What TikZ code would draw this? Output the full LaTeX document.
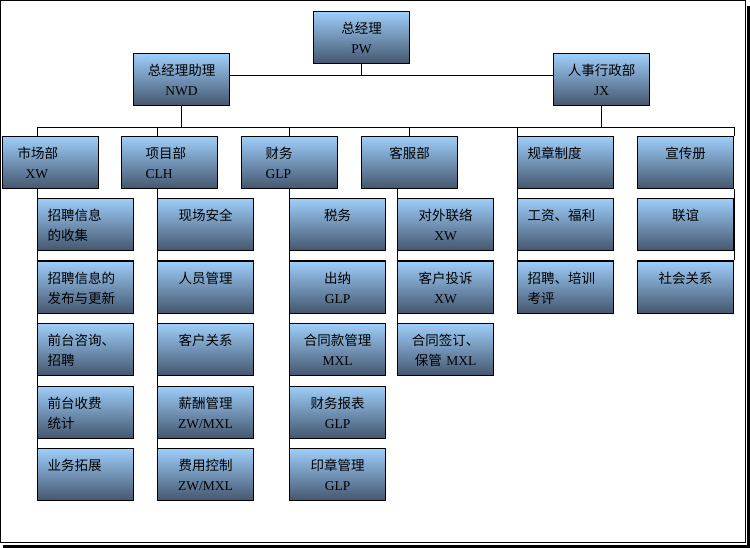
\documentclass[tikz,border=0pt]{standalone}
\usepackage{fontspec}
\setmainfont{Liberation Serif}
\newfontfamily\cjk{Noto Sans CJK SC}
\usetikzlibrary{positioning}
\definecolor{boxtop}{RGB}{158,206,250}
\definecolor{boxmid}{RGB}{124,162,204}
\definecolor{boxbot}{RGB}{68,86,110}
\newcommand{\nm}[1]{{\rmfamily #1}}

\begin{document}
\begin{tikzpicture}[x=1pt, y=-1pt,
    unit/.style={draw, line width=1.2pt, rectangle, anchor=north west,
        minimum width=96pt, minimum height=52pt, inner ysep=0pt,
        inner xsep=10pt, text width=76pt,
        top color=boxtop, middle color=boxmid, bottom color=boxbot,
        font=\cjk\fontsize{13.5}{20}\selectfont,
        execute at begin node={\rule{0pt}{17pt}},
        execute at end node={\rule[-5pt]{0pt}{5pt}}},
    ctr/.style={unit, align=center},
    lft/.style={unit, align=left},
    link/.style={line width=0.9pt}]
    \useasboundingbox (0,0) rectangle (750,548);
    % frame
    \draw[line width=1pt] (0.5,0.5) rectangle (745,542);
    \fill (747,6) rectangle (750,548);
    \fill (3,545) rectangle (750,548);

    \node[ctr] (pw) at (313,11) {总经理\\\nm{PW}};
    \node[ctr] (nwd) at (133,53) {总经理助理\\\nm{NWD}};
    \node[ctr] (jx) at (553,53) {人事行政部\\\nm{JX}};

    \node[lft] (sc) at (2,136) {\hspace*{5pt}市场部\\\hspace*{13pt}\nm{XW}};
    \node[lft] (xm) at (121,136) {\hspace*{14pt}项目部\\\hspace*{14pt}\nm{CLH}};
    \node[lft] (cw) at (241,136) {\hspace*{14pt}财务\\\hspace*{14pt}\nm{GLP}};
    \node[ctr] (kf) at (361,136) {客服部\\};
    \node[lft] (gz) at (517,136) {规章制度\\};
    \node[ctr] (xc) at (637,136) {宣传册\\};

    % market
    \node[lft] (sc1) at (37,198) {招聘信息\\的收集};
    \node[lft] (sc2) at (37,260.5) {招聘信息的\\发布与更新};
    \node[lft] (sc3) at (37,323) {前台咨询、\\招聘};
    \node[lft] (sc4) at (37,385.5) {前台收费\\统计};
    \node[lft] (sc5) at (37,448) {业务拓展\\};
    % project
    \node[ctr] (xm1) at (157,198) {现场安全\\};
    \node[ctr] (xm2) at (157,260.5) {人员管理\\};
    \node[ctr] (xm3) at (157,323) {客户关系\\};
    \node[ctr] (xm4) at (157,385.5) {薪酬管理\\\nm{ZW/MXL}};
    \node[ctr] (xm5) at (157,448) {费用控制\\\nm{ZW/MXL}};
    % finance
    \node[ctr] (cw1) at (289,198) {税务\\};
    \node[ctr] (cw2) at (289,260.5) {出纳\\\nm{GLP}};
    \node[ctr] (cw3) at (289,323) {合同款管理\\\nm{MXL}};
    \node[ctr] (cw4) at (289,385.5) {财务报表\\\nm{GLP}};
    \node[ctr] (cw5) at (289,448) {印章管理\\\nm{GLP}};
    % service
    \node[ctr] (kf1) at (397,198) {对外联络\\\nm{XW}};
    \node[ctr] (kf2) at (397,260.5) {客户投诉\\\nm{XW}};
    \node[ctr] (kf3) at (397,323) {合同签订、\\保管 \nm{MXL}};
    % rules
    \node[lft] (gz1) at (517,198) {工资、福利\\};
    \node[lft] (gz2) at (517,260.5) {招聘、培训\\考评};
    % brochure
    \node[ctr] (xc1) at (637,198) {联谊\\};
    \node[ctr] (xc2) at (637,260.5) {社会关系\\};

    % connectors
    \draw[link] (pw.south) -- ++(0,11) coordinate (m1);
    \draw[link] (nwd.east |- m1) -- (jx.west |- m1);
    \draw[link] (nwd.south) -- ++(0,21) coordinate (m2);
    \draw[link] (jx.south) -- (jx.south |- m2);
    \draw[link] (sc1.north west |- m2) -- (xc.north east |- m2);
    \draw[link] (sc1.north west |- m2) -- (sc1.north west |- sc.north);
    \draw[link] (xm1.north west |- m2) -- (xm1.north west |- xm.north);
    \draw[link] (cw.north |- m2) -- (cw.north);
    \draw[link] (kf.north |- m2) -- (kf.north);
    \draw[link] (gz.north west |- m2) -- (gz.north west);
    \draw[link] (xc.north east |- m2) -- (xc.north east);
    \foreach \c/\n in {sc/sc5, xm/xm5, cw/cw5, kf/kf3, gz/gz2}
        \draw[link] (\c1.north west |- \c.south) -- (\n.north west);
    \draw[link] (xc.south east) -- (xc2.north east);
\end{tikzpicture}
\end{document}
